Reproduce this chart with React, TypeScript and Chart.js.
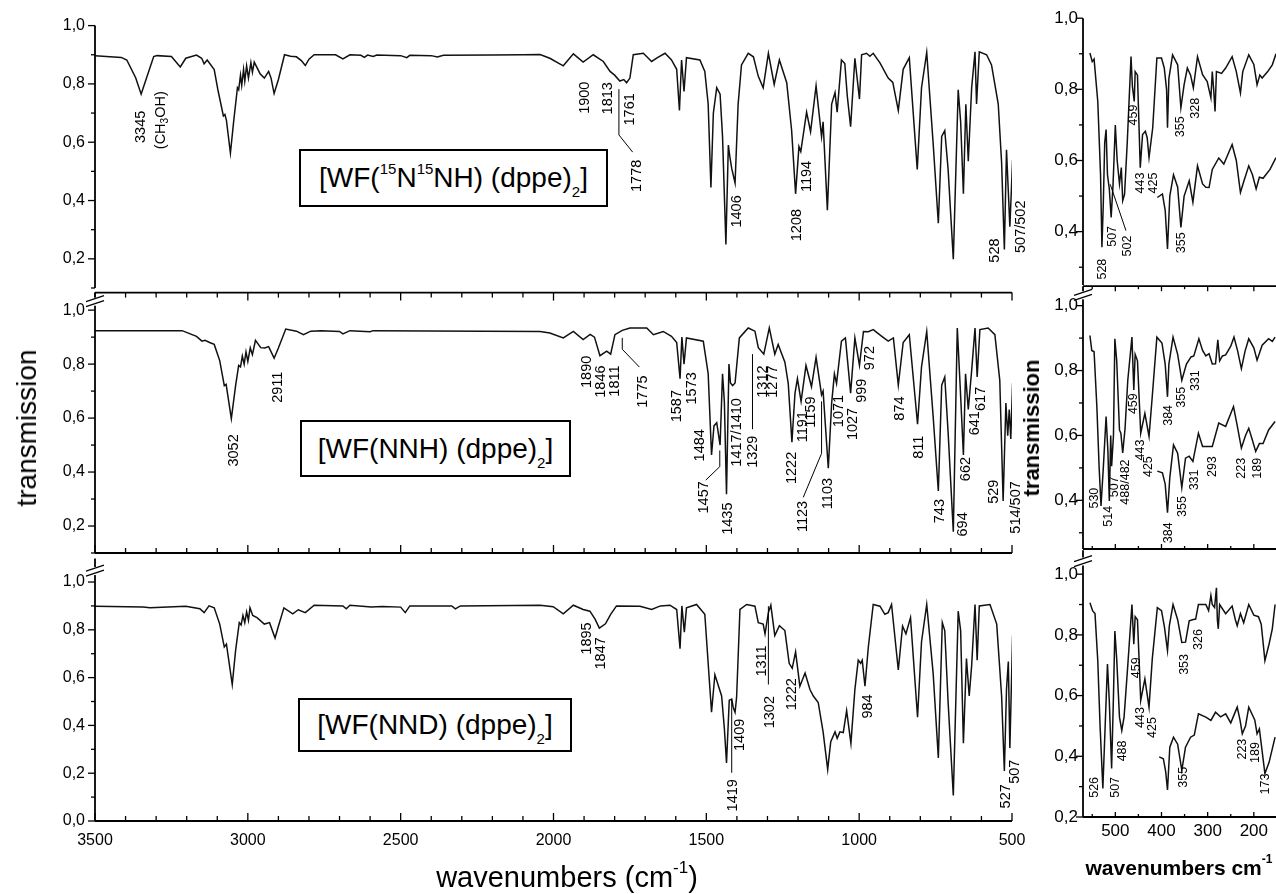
import React, { useEffect, useRef } from "react";
import { Chart, registerables } from "chart.js";

Chart.register(...registerables);

const FONT = "'Liberation Sans', Arial, Helvetica, sans-serif";

// ---------------- DATA: mid-IR spectra, [wavenumber, transmission] ----------------
// [WF(15N15NH)(dppe)2]
const irA: number[][] = [
  [3500, 0.897], [3414, 0.891], [3396, 0.882], [3367, 0.821], [3349, 0.765], [3338, 0.8], [3308, 0.894],
  [3297, 0.897], [3250, 0.894], [3221, 0.858], [3203, 0.888], [3168, 0.899], [3151, 0.888], [3143, 0.869],
  [3133, 0.882], [3110, 0.849], [3098, 0.78], [3080, 0.69], [3075, 0.695], [3070, 0.675], [3057, 0.563],
  [3046, 0.675], [3034, 0.787], [3030, 0.78], [3024, 0.83], [3020, 0.795], [3014, 0.85], [3010, 0.81],
  [3004, 0.862], [2998, 0.82], [2990, 0.873], [2985, 0.84], [2979, 0.875], [2960, 0.835], [2946, 0.82],
  [2932, 0.843], [2924, 0.82], [2914, 0.767], [2900, 0.815], [2880, 0.9], [2860, 0.895], [2841, 0.893],
  [2825, 0.88], [2812, 0.863], [2800, 0.885], [2783, 0.9], [2713, 0.9], [2689, 0.886], [2666, 0.9],
  [2630, 0.898], [2619, 0.891], [2608, 0.899], [2590, 0.894], [2578, 0.899], [2500, 0.897], [2480, 0.89],
  [2470, 0.898], [2400, 0.897], [2380, 0.892], [2360, 0.898], [2200, 0.899], [2100, 0.9], [2044, 0.901],
  [2012, 0.888], [1968, 0.862], [1935, 0.903], [1903, 0.875], [1870, 0.9], [1837, 0.877], [1815, 0.843],
  [1800, 0.83], [1783, 0.81], [1770, 0.815], [1761, 0.804], [1750, 0.82], [1739, 0.9], [1706, 0.905],
  [1679, 0.877], [1660, 0.89], [1635, 0.905], [1614, 0.882], [1597, 0.85], [1588, 0.709], [1581, 0.882],
  [1573, 0.774], [1565, 0.89], [1521, 0.882], [1505, 0.843], [1494, 0.731], [1485, 0.445], [1477, 0.7],
  [1466, 0.787], [1455, 0.765], [1447, 0.62], [1436, 0.249], [1428, 0.59], [1423, 0.55], [1417, 0.51],
  [1406, 0.46], [1396, 0.73], [1385, 0.865], [1363, 0.905], [1346, 0.893], [1330, 0.826], [1314, 0.787],
  [1297, 0.905], [1278, 0.798], [1261, 0.882], [1237, 0.804], [1221, 0.641], [1208, 0.423], [1197, 0.585],
  [1191, 0.568], [1172, 0.703], [1159, 0.636], [1141, 0.793], [1123, 0.619], [1118, 0.67], [1104, 0.367],
  [1090, 0.731], [1079, 0.77], [1072, 0.703], [1058, 0.882], [1047, 0.87], [1039, 0.76], [1028, 0.653],
  [1014, 0.888], [999, 0.748], [992, 0.9], [976, 0.905], [965, 0.895], [954, 0.905], [932, 0.872],
  [905, 0.82], [890, 0.805], [872, 0.709], [856, 0.85], [836, 0.89], [810, 0.507], [796, 0.787],
  [779, 0.908], [758, 0.597], [741, 0.322], [730, 0.62], [720, 0.64], [709, 0.507], [692, 0.199],
  [676, 0.78], [668, 0.67], [659, 0.423], [651, 0.73], [643, 0.535], [632, 0.787], [621, 0.91],
  [616, 0.731], [607, 0.91], [583, 0.9], [567, 0.865], [545, 0.731], [534, 0.53], [525, 0.232],
  [518, 0.574], [512, 0.43], [507, 0.31], [498, 0.54],
];

// [WF(NNH)(dppe)2]
const irB: number[][] = [
  [3500, 0.924], [3215, 0.924], [3168, 0.903], [3150, 0.885], [3140, 0.888], [3125, 0.88], [3110, 0.873],
  [3092, 0.813], [3077, 0.72], [3071, 0.725], [3054, 0.598], [3040, 0.72], [3030, 0.795], [3024, 0.79],
  [3018, 0.83], [3012, 0.8], [3006, 0.845], [3000, 0.81], [2992, 0.86], [2985, 0.835], [2975, 0.888],
  [2958, 0.861], [2945, 0.86], [2932, 0.865], [2914, 0.822], [2900, 0.86], [2876, 0.93], [2841, 0.922],
  [2818, 0.909], [2794, 0.922], [2760, 0.924], [2700, 0.921], [2689, 0.912], [2666, 0.924], [2600, 0.92],
  [2590, 0.924], [2044, 0.921], [2012, 0.915], [1968, 0.897], [1935, 0.921], [1903, 0.891], [1880, 0.91],
  [1866, 0.9], [1848, 0.831], [1826, 0.848], [1813, 0.837], [1799, 0.909], [1775, 0.925], [1750, 0.934],
  [1695, 0.934], [1673, 0.909], [1641, 0.921], [1614, 0.903], [1597, 0.88], [1586, 0.746], [1580, 0.9],
  [1573, 0.8], [1565, 0.897], [1510, 0.885], [1494, 0.765], [1483, 0.463], [1475, 0.571], [1466, 0.583],
  [1455, 0.5], [1447, 0.764], [1441, 0.66], [1434, 0.318], [1426, 0.8], [1421, 0.73], [1414, 0.72],
  [1406, 0.73], [1392, 0.897], [1363, 0.934], [1341, 0.922], [1330, 0.861], [1312, 0.837], [1294, 0.934],
  [1276, 0.837], [1265, 0.873], [1243, 0.807], [1232, 0.728], [1220, 0.511], [1210, 0.692], [1202, 0.746],
  [1190, 0.662], [1174, 0.795], [1156, 0.716], [1141, 0.825], [1123, 0.686], [1118, 0.7], [1101, 0.414],
  [1090, 0.656], [1081, 0.764], [1074, 0.728], [1058, 0.885], [1045, 0.897], [1028, 0.692], [1014, 0.897],
  [999, 0.795], [986, 0.921], [970, 0.92], [954, 0.928], [927, 0.904], [905, 0.885], [888, 0.897],
  [872, 0.722], [856, 0.88], [836, 0.909], [809, 0.577], [796, 0.79], [779, 0.921], [758, 0.607],
  [741, 0.33], [730, 0.722], [720, 0.752], [709, 0.547], [692, 0.179], [679, 0.934], [670, 0.728],
  [659, 0.463], [652, 0.764], [643, 0.632], [632, 0.776], [621, 0.934], [614, 0.752], [605, 0.928],
  [578, 0.934], [556, 0.909], [540, 0.74], [529, 0.293], [520, 0.656], [514, 0.535], [509, 0.632],
  [504, 0.523], [498, 0.73],
];

// [WF(NND)(dppe)2]
const irC: number[][] = [
  [3500, 0.899], [3343, 0.895], [3320, 0.892], [3203, 0.899], [3157, 0.888], [3143, 0.872], [3127, 0.9],
  [3110, 0.892], [3092, 0.824], [3077, 0.728], [3070, 0.74], [3051, 0.571], [3040, 0.714], [3028, 0.83],
  [3022, 0.82], [3016, 0.86], [3010, 0.83], [3004, 0.875], [2998, 0.84], [2993, 0.892], [2984, 0.86],
  [2970, 0.851], [2946, 0.824], [2929, 0.83], [2911, 0.766], [2900, 0.815], [2882, 0.892], [2853, 0.867],
  [2835, 0.884], [2812, 0.872], [2783, 0.903], [2689, 0.9], [2678, 0.888], [2666, 0.903], [2596, 0.895],
  [2560, 0.898], [2500, 0.895], [2485, 0.872], [2470, 0.9], [2333, 0.9], [2321, 0.888], [2305, 0.9],
  [2044, 0.903], [2001, 0.897], [1968, 0.867], [1935, 0.903], [1903, 0.885], [1881, 0.878], [1864, 0.845],
  [1850, 0.807], [1830, 0.825], [1813, 0.865], [1794, 0.9], [1717, 0.899], [1679, 0.885], [1650, 0.9],
  [1619, 0.903], [1597, 0.885], [1586, 0.721], [1580, 0.9], [1572, 0.79], [1565, 0.892], [1532, 0.906],
  [1505, 0.865], [1494, 0.66], [1483, 0.455], [1472, 0.612], [1450, 0.523], [1441, 0.387], [1434, 0.243],
  [1425, 0.505], [1417, 0.51], [1412, 0.475], [1406, 0.455], [1401, 0.517], [1390, 0.885], [1368, 0.906],
  [1341, 0.899], [1330, 0.83], [1314, 0.824], [1308, 0.783], [1297, 0.872], [1289, 0.903], [1276, 0.776],
  [1261, 0.817], [1243, 0.797], [1229, 0.66], [1219, 0.639], [1208, 0.708], [1194, 0.564], [1177, 0.619],
  [1161, 0.55], [1150, 0.523], [1134, 0.496], [1118, 0.373], [1103, 0.216], [1093, 0.332], [1079, 0.373],
  [1072, 0.346], [1063, 0.373], [1052, 0.37], [1041, 0.462], [1027, 0.325], [1014, 0.55], [1003, 0.673],
  [995, 0.66], [990, 0.673], [981, 0.564], [970, 0.728], [954, 0.906], [932, 0.899], [916, 0.865],
  [905, 0.872], [894, 0.906], [872, 0.632], [858, 0.815], [847, 0.783], [832, 0.851], [809, 0.434],
  [796, 0.75], [779, 0.906], [758, 0.619], [741, 0.264], [728, 0.83], [720, 0.797], [709, 0.497],
  [692, 0.107], [676, 0.878], [668, 0.797], [659, 0.325], [649, 0.68], [640, 0.523], [632, 0.65],
  [621, 0.906], [614, 0.673], [607, 0.9], [572, 0.906], [550, 0.824], [534, 0.523], [525, 0.209],
  [518, 0.55], [512, 0.667], [507, 0.305], [498, 0.776],
];

// ---------------- DATA: far-IR spectra (two traces each) ----------------
const farA1: number[][] = [
  [555, 0.902], [550, 0.878], [546, 0.885], [538, 0.766], [532, 0.56], [529, 0.356], [526, 0.48], [523, 0.65],
  [520, 0.687], [517, 0.56], [513, 0.52], [509, 0.44], [505, 0.53], [500, 0.7], [496, 0.6], [491, 0.534],
  [487, 0.58], [484, 0.487], [480, 0.505], [474, 0.655], [466, 0.892], [463, 0.808], [459, 0.766], [457, 0.85],
  [452, 0.84], [446, 0.58], [441, 0.673], [435, 0.682], [431, 0.664], [427, 0.608], [419, 0.692], [410, 0.888],
  [400, 0.888], [394, 0.86], [389, 0.8], [387, 0.692], [384, 0.83], [376, 0.897], [365, 0.869], [358, 0.748],
  [351, 0.813], [344, 0.86], [337, 0.84], [331, 0.804], [322, 0.892], [311, 0.841], [301, 0.822], [293, 0.776],
  [290, 0.85], [287, 0.8], [284, 0.738], [281, 0.85], [270, 0.845], [261, 0.86], [247, 0.892], [238, 0.85],
  [229, 0.79], [224, 0.85], [211, 0.897], [200, 0.87], [193, 0.813], [187, 0.84], [182, 0.832], [170, 0.85],
  [160, 0.869], [152, 0.9],
];
const farA2: number[][] = [
  [409, 0.496], [398, 0.506], [392, 0.46], [387, 0.351], [382, 0.5], [374, 0.56], [365, 0.525], [358, 0.412],
  [351, 0.5], [340, 0.543], [332, 0.483], [322, 0.585], [311, 0.534], [304, 0.525], [297, 0.524], [290, 0.575],
  [276, 0.607], [265, 0.59], [247, 0.645], [238, 0.6], [229, 0.51], [222, 0.54], [211, 0.585], [203, 0.56],
  [195, 0.52], [188, 0.553], [180, 0.55], [165, 0.575], [152, 0.608],
];
const farB1: number[][] = [
  [555, 0.908], [551, 0.862], [546, 0.858], [540, 0.689], [535, 0.5], [531, 0.383], [526, 0.5], [520, 0.658],
  [516, 0.55], [513, 0.398], [510, 0.6], [508, 0.505], [504, 0.6], [501, 0.898], [497, 0.83], [491, 0.617],
  [488, 0.607], [484, 0.546], [479, 0.62], [473, 0.77], [464, 0.903], [460, 0.74], [457, 0.85], [452, 0.83],
  [445, 0.607], [436, 0.668], [427, 0.597], [420, 0.72], [410, 0.903], [399, 0.885], [392, 0.82], [387, 0.719],
  [384, 0.82], [375, 0.903], [365, 0.85], [356, 0.77], [346, 0.82], [336, 0.842], [330, 0.845], [319, 0.898],
  [311, 0.862], [304, 0.845], [297, 0.852], [290, 0.82], [283, 0.821], [278, 0.895], [274, 0.83], [268, 0.845],
  [261, 0.848], [250, 0.875], [243, 0.903], [235, 0.86], [227, 0.806], [219, 0.86], [211, 0.898], [200, 0.87],
  [193, 0.832], [182, 0.878], [168, 0.898], [160, 0.89], [154, 0.903],
];
const farB2: number[][] = [
  [409, 0.49], [398, 0.485], [392, 0.45], [387, 0.362], [382, 0.47], [374, 0.571], [365, 0.545], [356, 0.439],
  [348, 0.53], [340, 0.536], [332, 0.52], [320, 0.607], [311, 0.566], [297, 0.566], [290, 0.566], [276, 0.638],
  [261, 0.628], [244, 0.689], [236, 0.63], [227, 0.561], [218, 0.6], [211, 0.622], [204, 0.59], [196, 0.551],
  [188, 0.575], [180, 0.575], [168, 0.617], [154, 0.643],
];
const farC1: number[][] = [
  [555, 0.906], [549, 0.879], [544, 0.87], [538, 0.715], [533, 0.5], [527, 0.294], [522, 0.5], [517, 0.704],
  [513, 0.58], [508, 0.36], [504, 0.6], [501, 0.813], [497, 0.72], [491, 0.529], [486, 0.485], [481, 0.53],
  [473, 0.7], [464, 0.9], [460, 0.769], [457, 0.86], [452, 0.85], [445, 0.584], [436, 0.655], [427, 0.562],
  [420, 0.72], [409, 0.89], [400, 0.88], [394, 0.83], [387, 0.748], [383, 0.83], [375, 0.9], [365, 0.85],
  [356, 0.775], [348, 0.776], [340, 0.846], [333, 0.85], [326, 0.852], [320, 0.9], [304, 0.9], [298, 0.88],
  [293, 0.93], [290, 0.9], [285, 0.89], [281, 0.955], [279, 0.85], [277, 0.82], [274, 0.9], [261, 0.87],
  [247, 0.895], [240, 0.85], [236, 0.83], [229, 0.87], [222, 0.84], [211, 0.9], [200, 0.865], [190, 0.86],
  [184, 0.835], [176, 0.715], [167, 0.77], [160, 0.82], [154, 0.9],
];
const farC2: number[][] = [
  [405, 0.398], [396, 0.392], [391, 0.35], [387, 0.289], [382, 0.43], [374, 0.463], [365, 0.44], [356, 0.354],
  [348, 0.43], [337, 0.463], [329, 0.47], [320, 0.54], [304, 0.529], [293, 0.518], [283, 0.545], [272, 0.53],
  [261, 0.54], [250, 0.51], [236, 0.562], [230, 0.52], [225, 0.474], [218, 0.5], [211, 0.562], [198, 0.52],
  [193, 0.474], [188, 0.49], [176, 0.343], [167, 0.38], [154, 0.463],
];

// ---------------- TICKS ----------------
const midIrTicks = [3500, 3000, 2500, 2000, 1500, 1000, 500];
const farIrTicks = [500, 400, 300, 200];
const yTicksMid = [0.2, 0.4, 0.6, 0.8, 1.0];
const yTicksLow = [0.0, 0.2, 0.4, 0.6, 0.8, 1.0];
const yTicksFar = [0.4, 0.6, 0.8, 1.0];
const yTicksFarLow = [0.2, 0.4, 0.6, 0.8, 1.0];

// ---------------- PEAK LABELS: text, wavenumber, transmission at top of text ----------------
type Ann = { t: string; w: number; v: number; rich?: [string, boolean][] };
const annA: Ann[] = [
  { t: "3345", w: 3350, v: 0.708 },
  { t: "(CH3OH)", w: 3284, v: 0.775, rich: [["(CH", false], ["3", true], ["OH)", false]] },
  { t: "1900", w: 1897, v: 0.808 }, { t: "1813", w: 1821, v: 0.806 }, { t: "1761", w: 1750, v: 0.768 },
  { t: "1778", w: 1728, v: 0.54 }, { t: "1406", w: 1401, v: 0.418 }, { t: "1208", w: 1205, v: 0.371 },
  { t: "1194", w: 1172, v: 0.536 }, { t: "528", w: 556, v: 0.27 }, { t: "507/502", w: 469, v: 0.4 },
];
const annB: Ann[] = [
  { t: "3052", w: 3045, v: 0.54 }, { t: "2911", w: 2901, v: 0.772 }, { t: "1890", w: 1892, v: 0.831 },
  { t: "1846", w: 1845, v: 0.795 }, { t: "1811", w: 1799, v: 0.795 }, { t: "1775", w: 1708, v: 0.758 },
  { t: "1587", w: 1597, v: 0.704 }, { t: "1573", w: 1548, v: 0.77 }, { t: "1484", w: 1521, v: 0.559 },
  { t: "1457", w: 1507, v: 0.366 }, { t: "1435", w: 1428, v: 0.287 }, { t: "1417/1410", w: 1401, v: 0.674 },
  { t: "1329", w: 1346, v: 0.535 }, { t: "1312", w: 1316, v: 0.795 }, { t: "1277", w: 1281, v: 0.795 },
  { t: "1222", w: 1221, v: 0.475 }, { t: "1191", w: 1183, v: 0.626 }, { t: "1159", w: 1156, v: 0.68 },
  { t: "1123", w: 1183, v: 0.293 }, { t: "1103", w: 1101, v: 0.378 }, { t: "1071", w: 1065, v: 0.686 },
  { t: "1027", w: 1019, v: 0.638 }, { t: "999", w: 992, v: 0.746 }, { t: "972", w: 965, v: 0.867 },
  { t: "874", w: 867, v: 0.68 }, { t: "811", w: 805, v: 0.535 }, { t: "743", w: 736, v: 0.3 },
  { t: "694", w: 659, v: 0.251 }, { t: "662", w: 649, v: 0.456 }, { t: "641", w: 621, v: 0.626 },
  { t: "617", w: 600, v: 0.716 }, { t: "529", w: 559, v: 0.372 }, { t: "514/507", w: 487, v: 0.366 },
];
const annC: Ann[] = [
  { t: "1895", w: 1892, v: 0.831 }, { t: "1847", w: 1845, v: 0.769 }, { t: "1419", w: 1412, v: 0.175 },
  { t: "1409", w: 1390, v: 0.428 }, { t: "1311", w: 1319, v: 0.735 }, { t: "1302", w: 1292, v: 0.523 },
  { t: "1222", w: 1221, v: 0.598 }, { t: "984", w: 970, v: 0.53 }, { t: "527", w: 520, v: 0.154 },
  { t: "507", w: 491, v: 0.257 },
];
const annFarA: Ann[] = [
  { t: "528", w: 527, v: 0.324 }, { t: "507", w: 506, v: 0.416 }, { t: "502", w: 473, v: 0.389 },
  { t: "459", w: 461, v: 0.757 }, { t: "443", w: 445, v: 0.566 }, { t: "425", w: 418, v: 0.566 },
  { t: "355", w: 358, v: 0.724 }, { t: "328", w: 327, v: 0.776 }, { t: "355", w: 356, v: 0.398 },
];
const annFarB: Ann[] = [
  { t: "530", w: 545, v: 0.439 }, { t: "514", w: 514, v: 0.383 }, { t: "507", w: 502, v: 0.474 },
  { t: "488/482", w: 478, v: 0.526 }, { t: "459", w: 460, v: 0.73 }, { t: "443", w: 445, v: 0.587 },
  { t: "425", w: 427, v: 0.536 }, { t: "384", w: 385, v: 0.694 }, { t: "355", w: 356, v: 0.75 },
  { t: "331", w: 326, v: 0.801 }, { t: "384", w: 385, v: 0.332 }, { t: "355", w: 355, v: 0.413 },
  { t: "331", w: 329, v: 0.495 }, { t: "293", w: 290, v: 0.536 }, { t: "223", w: 226, v: 0.531 },
  { t: "189", w: 193, v: 0.531 },
];
const annFarC: Ann[] = [
  { t: "526", w: 545, v: 0.332 }, { t: "507", w: 500, v: 0.332 }, { t: "488", w: 484, v: 0.452 },
  { t: "459", w: 455, v: 0.726 }, { t: "443", w: 445, v: 0.562 }, { t: "425", w: 419, v: 0.529 },
  { t: "353", w: 351, v: 0.737 }, { t: "326", w: 320, v: 0.819 }, { t: "355", w: 353, v: 0.365 },
  { t: "223", w: 224, v: 0.458 }, { t: "189", w: 196, v: 0.447 }, { t: "173", w: 175, v: 0.343 },
];

// leader lines (wavenumber, transmission)
const leadA = [[[1786, 0.782], [1786, 0.625], [1741, 0.566]]];
const leadB = [
  [[1775, 0.897], [1775, 0.855], [1719, 0.789]],
  [[1456, 0.48], [1456, 0.42], [1502, 0.37]],
  [[1349, 0.837], [1349, 0.559]],
  [[1123, 0.662], [1123, 0.469], [1183, 0.306]],
];
const leadC = [[[1417, 0.51], [1417, 0.202]], [[1297, 0.899], [1297, 0.571]]];
const leadFarA = [[[511, 0.533], [477, 0.403]]];

// ---------------- PANEL LAYOUT ----------------
const PAD_L = 70, PAD_T = 14, PAD_R = 24, PAD_B = 40;

type Panel = {
  id: string; area: number[]; x: number[]; y: number[]; yLabels: number[]; xLabels: number[];
  showX: boolean; series: number[][][]; ann: Ann[]; leaders: number[][][];
  top: boolean; bottom: boolean; brk: number | null; xStep: number; xMajor: number;
  tickFont: number; annFont: number; yPad: number; xPad: number; far: boolean;
};

const PANELS: Panel[] = [
  { id: "A", area: [95, 20, 1012, 288], x: [500, 3500], y: [0.1, 1.0], yLabels: yTicksMid, xLabels: midIrTicks, showX: false,
    series: [irA], ann: annA, leaders: leadA, top: false, bottom: false, brk: null, xStep: 100, xMajor: 500,
    tickFont: 16, annFont: 14.5, yPad: 10, xPad: 10, far: false },
  { id: "B", area: [95, 287, 1012, 553], x: [500, 3500], y: [0.1, 1.065], yLabels: yTicksMid, xLabels: midIrTicks, showX: false,
    series: [irB], ann: annB, leaders: leadB, top: true, bottom: true, brk: 1.035, xStep: 100, xMajor: 500,
    tickFont: 16, annFont: 14.5, yPad: 10, xPad: 10, far: false },
  { id: "C", area: [95, 553, 1012, 821], x: [500, 3500], y: [0.0, 1.098], yLabels: yTicksLow, xLabels: midIrTicks, showX: true,
    series: [irC], ann: annC, leaders: leadC, top: false, bottom: true, brk: 1.05, xStep: 100, xMajor: 500,
    tickFont: 16, annFont: 14.5, yPad: 10, xPad: 10, far: false },
  { id: "D", area: [1083, 17, 1276, 285], x: [152, 570], y: [0.25, 1.0], yLabels: yTicksFar, xLabels: farIrTicks, showX: false,
    series: [farA1, farA2], ann: annFarA, leaders: leadFarA, top: false, bottom: false, brk: null, xStep: 50, xMajor: 100,
    tickFont: 17, annFont: 12.5, yPad: 5, xPad: 4, far: true },
  { id: "E", area: [1083, 285, 1276, 549], x: [152, 570], y: [0.25, 1.06], yLabels: yTicksFar, xLabels: farIrTicks, showX: false,
    series: [farB1, farB2], ann: annFarB, leaders: [], top: true, bottom: true, brk: 1.035, xStep: 50, xMajor: 100,
    tickFont: 17, annFont: 12.5, yPad: 5, xPad: 4, far: true },
  { id: "F", area: [1083, 549, 1276, 817], x: [152, 570], y: [0.2, 1.079], yLabels: yTicksFarLow, xLabels: farIrTicks, showX: true,
    series: [farC1, farC2], ann: annFarC, leaders: [], top: false, bottom: true, brk: 1.045, xStep: 50, xMajor: 100,
    tickFont: 17, annFont: 12.5, yPad: 5, xPad: 4, far: true },
];

function decor(p: Panel) {
  return {
    id: "decor" + p.id,
    afterDatasetsDraw(chart: any) {
      const ctx = chart.ctx as CanvasRenderingContext2D;
      const { left, right, top, bottom } = chart.chartArea;
      const xs = chart.scales.x, ys = chart.scales.y;
      const seg = (x1: number, y1: number, x2: number, y2: number) => {
        ctx.beginPath(); ctx.moveTo(x1, y1); ctx.lineTo(x2, y2); ctx.stroke();
      };
      ctx.save();
      ctx.strokeStyle = "#000";
      ctx.lineWidth = 1.8;
      seg(left, top, left, bottom);
      if (p.top) seg(left, top, right, top);
      if (p.bottom) seg(left, bottom, right, bottom);
      ctx.lineWidth = 1.3;
      // y ticks (outward)
      for (let k = Math.ceil(p.y[0] * 10 - 1e-6); k <= Math.floor(p.y[1] * 10 + 1e-6); k++) {
        const v = k / 10;
        const y = ys.getPixelForValue(v);
        const major = p.yLabels.some((l) => Math.abs(l - v) < 1e-6);
        seg(left - (major ? 7 : 4), y, left, y);
      }
      // x ticks (inward)
      for (let w = Math.ceil(p.x[0] / p.xStep) * p.xStep; w <= p.x[1] + 1e-6; w += p.xStep) {
        const x = xs.getPixelForValue(w);
        const major = w % p.xMajor === 0;
        const len = p.far ? (major ? 5 : 3) : major ? 8 : 5;
        if (p.bottom) seg(x, bottom, x, bottom - len);
        if (p.top) seg(x, top, x, top + len);
      }
      // axis break
      if (p.brk !== null) {
        const yb = ys.getPixelForValue(p.brk);
        ctx.fillStyle = "#fff";
        ctx.fillRect(left - 2, yb - 3, 4, 8);
        ctx.lineWidth = 1.3;
        seg(left - 9, yb + 1, left + 9, yb - 5);
        seg(left - 9, yb + 6, left + 9, yb);
      }
      // leader lines
      ctx.lineWidth = 1;
      for (const ln of p.leaders) {
        ctx.beginPath();
        ln.forEach(([w, v], i) => {
          const x = xs.getPixelForValue(w), y = ys.getPixelForValue(v);
          if (i === 0) ctx.moveTo(x, y); else ctx.lineTo(x, y);
        });
        ctx.stroke();
      }
      // rotated peak labels
      ctx.fillStyle = "#000";
      const fs = p.annFont;
      for (const a of p.ann) {
        const x = xs.getPixelForValue(a.w), y = ys.getPixelForValue(a.v);
        ctx.save();
        ctx.translate(x, y);
        ctx.rotate(-Math.PI / 2);
        ctx.textBaseline = "middle";
        ctx.textAlign = "left";
        const segs: [string, boolean][] = a.rich || [[a.t, false]];
        const widths = segs.map(([s, sub]) => {
          ctx.font = `${sub ? fs * 0.7 : fs}px ${FONT}`;
          return ctx.measureText(s).width;
        });
        let cx = -widths.reduce((s, v) => s + v, 0);
        segs.forEach(([s, sub], i) => {
          ctx.font = `${sub ? fs * 0.7 : fs}px ${FONT}`;
          ctx.fillText(s, cx, sub ? fs * 0.32 : 0);
          cx += widths[i];
        });
        ctx.restore();
      }
      ctx.restore();
    },
  };
}

function makeChart(canvas: HTMLCanvasElement, p: Panel) {
  const datasets = p.series.map((s) => ({
    data: s.map(([x, y]) => ({ x, y })),
    borderColor: "#111",
    borderWidth: 1.5,
    pointRadius: 0,
    tension: 0,
    fill: false,
  }));
  return new Chart(canvas, {
    type: "line",
    data: { datasets },
    options: {
      animation: false,
      responsive: false,
      devicePixelRatio: 1,
      events: [],
      layout: { padding: { left: 0, top: PAD_T, right: PAD_R, bottom: 0 } },
      plugins: { legend: { display: false }, tooltip: { enabled: false } },
      scales: {
        x: {
          type: "linear",
          reverse: true,
          min: p.x[0],
          max: p.x[1],
          grid: { display: false, drawTicks: false },
          border: { display: false },
          ticks: {
            display: p.showX,
            autoSkip: false,
            maxRotation: 0,
            padding: p.xPad,
            color: "#000",
            font: { family: FONT, size: p.tickFont },
            callback: (v: any) => String(v),
          },
          afterBuildTicks: (s: any) => { s.ticks = p.xLabels.map((v) => ({ value: v })); },
          afterFit: (s: any) => { s.height = PAD_B; },
        },
        y: {
          type: "linear",
          min: p.y[0],
          max: p.y[1],
          grid: { display: false, drawTicks: false },
          border: { display: false },
          ticks: {
            autoSkip: false,
            padding: p.yPad,
            color: "#000",
            font: { family: FONT, size: p.tickFont },
            callback: (v: any) => Number(v).toFixed(1).replace(".", ","),
          },
          afterBuildTicks: (s: any) => { s.ticks = p.yLabels.map((v) => ({ value: v })); },
          afterFit: (s: any) => { s.width = PAD_L; },
        },
      },
    } as any,
    plugins: [decor(p)],
  });
}

const boxStyle = (l: number, t: number, w: number, h: number): React.CSSProperties => ({
  position: "absolute", left: l, top: t, width: w, height: h, border: "2px solid #000", boxSizing: "border-box",
  display: "flex", alignItems: "center", justifyContent: "center", fontSize: 28, whiteSpace: "nowrap", background: "#fff",
});
const supS: React.CSSProperties = { fontSize: 15, verticalAlign: "top", position: "relative", top: -2 };
const subS: React.CSSProperties = { fontSize: 15, verticalAlign: "bottom", position: "relative", top: 6 };

export default function App() {
  const refs = useRef<(HTMLCanvasElement | null)[]>([]);
  useEffect(() => {
    const charts = PANELS.map((p, i) => makeChart(refs.current[i] as HTMLCanvasElement, p));
    return () => charts.forEach((c) => c.destroy());
  }, []);
  return (
    <div style={{ position: "fixed", left: 0, top: 0, width: 1276, height: 894, background: "#fff", overflow: "hidden", fontFamily: FONT, color: "#000" }}>
      {PANELS.map((p, i) => {
        const [L, T, R, B] = p.area;
        return (
          <canvas
            key={p.id}
            ref={(el) => { refs.current[i] = el; }}
            width={R - L + PAD_L + PAD_R}
            height={B - T + PAD_T + PAD_B}
            style={{ position: "absolute", left: L - PAD_L, top: T - PAD_T }}
          />
        );
      })}
      <div style={boxStyle(299, 149, 309, 58)}>
        <span>[WF(<span style={supS}>15</span>N<span style={supS}>15</span>NH) (dppe)<span style={subS}>2</span>]</span>
      </div>
      <div style={boxStyle(300, 420, 271, 57)}>
        <span>[WF(NNH) (dppe)<span style={subS}>2</span>]</span>
      </div>
      <div style={boxStyle(298, 698, 274, 54)}>
        <span>[WF(NND) (dppe)<span style={subS}>2</span>]</span>
      </div>
      <div style={{ position: "absolute", left: 27, top: 428, transform: "translate(-50%, -50%) rotate(-90deg)", fontSize: 28, whiteSpace: "nowrap", lineHeight: 1 }}>
        transmission
      </div>
      <div style={{ position: "absolute", left: 567, top: 877, transform: "translate(-50%, -50%)", fontSize: 29, whiteSpace: "nowrap", lineHeight: 1 }}>
        wavenumbers (cm<span style={{ fontSize: 17, verticalAlign: "top", position: "relative", top: -4 }}>-1</span>)
      </div>
      <div style={{ position: "absolute", left: 1032, top: 428, transform: "translate(-50%, -50%) rotate(-90deg)", fontSize: 22, fontWeight: "bold", whiteSpace: "nowrap", lineHeight: 1 }}>
        transmission
      </div>
      <div style={{ position: "absolute", left: 1179, top: 867, transform: "translate(-50%, -50%)", fontSize: 21, fontWeight: "bold", whiteSpace: "nowrap", lineHeight: 1 }}>
        wavenumbers cm<span style={{ fontSize: 12, verticalAlign: "top", position: "relative", top: -4 }}>-1</span>
      </div>
    </div>
  );
}
